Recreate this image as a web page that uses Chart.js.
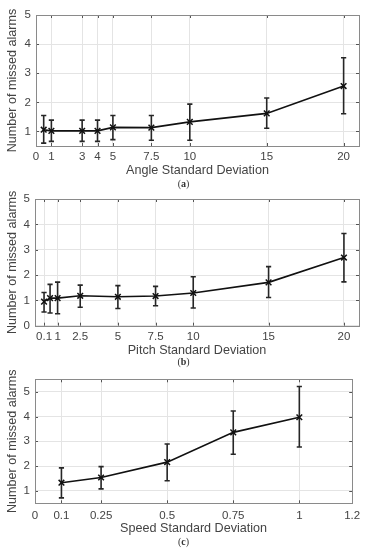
<!DOCTYPE html>
<html>
<head>
<meta charset="utf-8">
<script src="https://cdn.jsdelivr.net/npm/chart.js@4.4.1/dist/chart.umd.min.js"></script>
<style>
  html, body { margin: 0; padding: 0; background: #fff; }
  #wrap { position: relative; width: 367px; height: 550px; overflow: hidden; }
  canvas { position: absolute; left: 0; }
  .cap { position: absolute; left: 0; width: 367px; text-align: center;
         font-family: "Liberation Serif", "DejaVu Serif", serif; font-size: 10px; color: #333; line-height: 10px; }
</style>
</head>
<body>
<div id="wrap">
  <canvas id="chartA" width="367" height="180" style="top:0px"></canvas>
  <div class="cap" style="top:179px">(<b>a</b>)</div>
  <canvas id="chartB" width="367" height="175" style="top:186px"></canvas>
  <div class="cap" style="top:357px">(<b>b</b>)</div>
  <canvas id="chartC" width="367" height="188" style="top:362px"></canvas>
  <div class="cap" style="top:537px">(<b>c</b>)</div>
</div>
<script>
// (a) angle
var angleX = [0.5, 1, 3, 4, 5, 7.5, 10, 15, 20]
var angleMean = [1.06, 1.02, 1.02, 1.02, 1.14, 1.13, 1.33, 1.62, 2.56]
var angleLow = [0.6, 0.66, 0.66, 0.66, 0.72, 0.7, 0.7, 1.11, 1.61]
var angleHigh = [1.55, 1.39, 1.39, 1.39, 1.55, 1.55, 1.94, 2.15, 3.53]
var angleTicks = [0, 1, 3, 4, 5, 7.5, 10, 15, 20]

// (b) pitch
var pitchX = [0.1, 0.5, 1, 2.5, 5, 7.5, 10, 15, 20]
var pitchMean = [0.95, 1.09, 1.09, 1.18, 1.14, 1.17, 1.29, 1.71, 2.69]
var pitchLow = [0.54, 0.5, 0.47, 0.73, 0.68, 0.79, 0.7, 1.11, 1.73]
var pitchHigh = [1.31, 1.63, 1.72, 1.6, 1.58, 1.55, 1.93, 2.33, 3.64]
var pitchTicks = [0.1, 1, 2.5, 5, 7.5, 10, 15, 20]

// (c) speed
var speedX = [0.1, 0.25, 0.5, 0.75, 1]
var speedMean = [1.33, 1.54, 2.16, 3.36, 3.97]
var speedLow = [0.72, 1.08, 1.41, 2.48, 2.77]
var speedHigh = [1.93, 1.98, 2.89, 4.22, 5.21]
var speedTicks = [0, 0.1, 0.25, 0.5, 0.75, 1, 1.2]

var yTitle = 'Number of missed alarms'
var font = '"Liberation Sans", Arial, sans-serif'

// error bars under the line, box + inward ticks on top (matlab look)
var matlabPlugin = {
  id: 'matlabPlugin',
  beforeDatasetsDraw(chart) {
    var ctx = chart.ctx, x = chart.scales.x, y = chart.scales.y
    var ds = chart.data.datasets[0]
    ctx.save()
    ctx.strokeStyle = '#262626'
    ctx.lineWidth = 1.6
    ds.data.forEach(function (p, i) {
      var px = x.getPixelForValue(p.x)
      var lo = y.getPixelForValue(ds.errLow[i])
      var hi = y.getPixelForValue(ds.errHigh[i])
      ctx.beginPath()
      ctx.moveTo(px, lo); ctx.lineTo(px, hi)
      ctx.moveTo(px - 2.6, lo); ctx.lineTo(px + 2.6, lo)
      ctx.moveTo(px - 2.6, hi); ctx.lineTo(px + 2.6, hi)
      ctx.stroke()
    })
    ctx.restore()
  },
  afterDraw(chart) {
    var ctx = chart.ctx, a = chart.chartArea, x = chart.scales.x, y = chart.scales.y
    ctx.save()
    ctx.strokeStyle = '#555'
    ctx.lineWidth = 1
    ctx.beginPath()
    x.ticks.forEach(function (t) {
      var px = Math.round(x.getPixelForValue(t.value)) + 0.5
      ctx.moveTo(px, a.bottom); ctx.lineTo(px, a.bottom - 3)
      ctx.moveTo(px, a.top); ctx.lineTo(px, a.top + 3)
    })
    y.ticks.forEach(function (t) {
      var py = Math.round(y.getPixelForValue(t.value)) + 0.5
      ctx.moveTo(a.left, py); ctx.lineTo(a.left + 3, py)
      ctx.moveTo(a.right, py); ctx.lineTo(a.right - 3, py)
    })
    ctx.stroke()
    ctx.strokeStyle = '#8a8a8a'
    ctx.strokeRect(Math.round(a.left) + 0.5, Math.round(a.top) + 0.5,
      Math.round(a.right - a.left), Math.round(a.bottom - a.top))
    ctx.restore()
  }
}

function makeChart(id, xs, mean, low, high, xTicks, yTicks, xMin, xMax, yMin, yMax, xTitle, lay) {
  var pts = xs.map(function (v, i) { return { x: v, y: mean[i] } })
  return new Chart(document.getElementById(id), {
    type: 'scatter',
    data: {
      datasets: [{
        data: pts,
        errLow: low,
        errHigh: high,
        showLine: true,
        borderColor: '#111',
        backgroundColor: '#111',
        borderWidth: 1.6,
        pointStyle: 'crossRot',
        pointRadius: 4,
        pointBorderWidth: 1.5,
        tension: 0
      }]
    },
    options: {
      responsive: false,
      animation: false,
      devicePixelRatio: 1,
      layout: { padding: { left: 0, right: lay.right, top: lay.top, bottom: 0 } },
      plugins: { legend: { display: false }, tooltip: { enabled: false } },
      scales: {
        x: {
          type: 'linear',
          min: xMin,
          max: xMax,
          afterBuildTicks: function (s) { s.ticks = xTicks.map(function (v) { return { value: v } }) },
          afterFit: function (s) { s.height = lay.xh },
          grid: { color: '#e4e4e4', drawTicks: false },
          border: { display: false },
          ticks: {
            autoSkip: false, maxRotation: 0, padding: lay.tpad,
            color: '#444', font: { family: font, size: 11.5 },
            callback: function (v) { return String(v) }
          },
          title: {
            display: true, text: xTitle, color: '#444',
            font: { family: font, size: 12.6 },
            padding: { top: 0, bottom: lay.titlePad }
          }
        },
        y: {
          min: yMin,
          max: yMax,
          afterBuildTicks: function (s) { s.ticks = yTicks.map(function (v) { return { value: v } }) },
          afterFit: function (s) { s.width = lay.yw },
          grid: { color: '#e4e4e4', drawTicks: false },
          border: { display: false },
          ticks: {
            padding: 5, color: '#444', font: { family: font, size: 11.5 },
            callback: function (v) { return String(v) }
          },
          title: {
            display: true, text: yTitle, color: '#444',
            font: { family: font, size: 12.6 },
            padding: { top: 5.4, bottom: 0 }
          }
        }
      }
    },
    plugins: [matlabPlugin]
  })
}

makeChart('chartA', angleX, angleMean, angleLow, angleHigh, angleTicks, [1, 2, 3, 4, 5],
  0, 21, 0.5, 5, 'Angle Standard Deviation',
  { right: 8, top: 15, yw: 36, xh: 34, tpad: 3.5, titlePad: 2.2 })

makeChart('chartB', pitchX, pitchMean, pitchLow, pitchHigh, pitchTicks, [0, 1, 2, 3, 4, 5],
  -0.5, 21, 0, 5, 'Pitch Standard Deviation',
  { right: 8, top: 13, yw: 35, xh: 35.3, tpad: 4, titlePad: 2.7 })

makeChart('chartC', speedX, speedMean, speedLow, speedHigh, speedTicks, [1, 2, 3, 4, 5],
  0, 1.2, 0.5, 5.5, 'Speed Standard Deviation',
  { right: 14.8, top: 17.3, yw: 35, xh: 46.7, tpad: 5.5, titlePad: 14.4 })
</script>
</body>
</html>
